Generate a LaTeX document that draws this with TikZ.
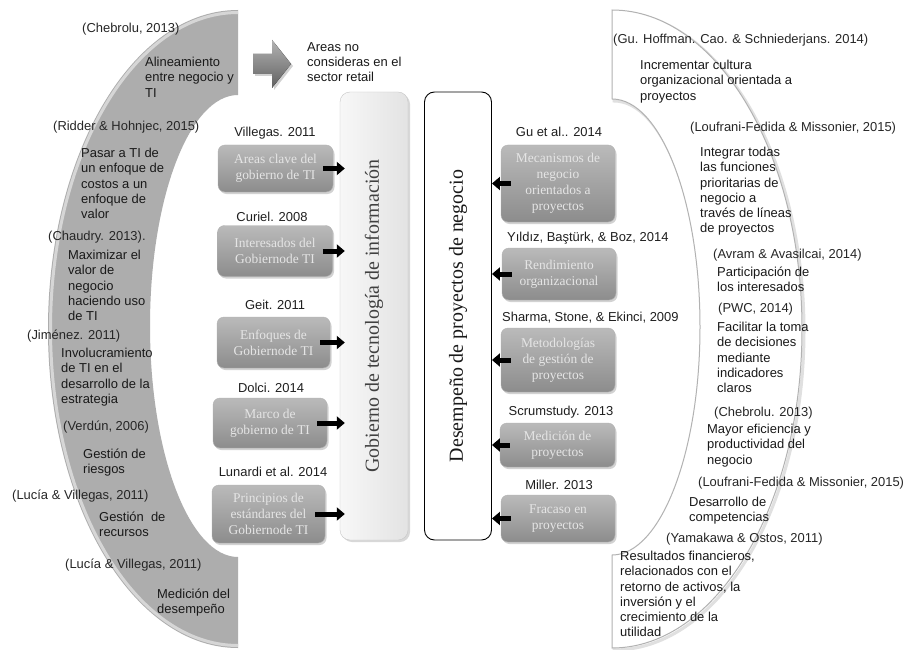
\documentclass[tikz,border=0pt]{standalone}
\usepackage{fontspec}
\setmainfont{Liberation Sans}
\newfontfamily\serifx{Liberation Serif}
\usetikzlibrary{arrows.meta,shadows}
\begin{document}
\begin{tikzpicture}[x=1bp,y=-1bp,
  cite/.style={font=\fontsize{13}{15.3}\selectfont, text=black!85, inner sep=0pt, anchor=west},
  body/.style={font=\fontsize{13}{15.3}\selectfont, text=black!90, align=left, inner sep=0pt, anchor=north west},
  lbl/.style={font=\fontsize{13}{15}\selectfont, text=black!88, inner sep=0pt},
  gbox/.style={rounded corners=7bp, draw=black!30, top color=black!27, bottom color=black!45,
    minimum width=114bp, align=center, text=white!90!black, inner sep=2bp,
    font=\serifx\fontsize{13.5}{16}\selectfont,
    drop shadow={opacity=0.35, shadow xshift=1.5bp, shadow yshift=-2bp}},
  tallg/.style={rounded corners=10bp, draw=black!22, left color=black!3, right color=black!11,
    minimum width=68bp, minimum height=448bp, inner sep=0pt,
    drop shadow={opacity=0.3, shadow xshift=2bp, shadow yshift=-2bp}},
  tallw/.style={rounded corners=10bp, draw=black, line width=0.9bp, fill=white,
    minimum width=67bp, minimum height=448bp, inner sep=0pt},
  vtext/.style={rotate=90, font=\serifx\fontsize{20}{24}\selectfont, inner sep=0pt},
  blk/.style={line width=5bp, -{Triangle[length=8bp,width=13bp]}, black},
]
\useasboundingbox[fill=white] (0,0) rectangle (911,650);

% left crescent
\fill[black!32] (238,10) arc[start angle=270, end angle=90, x radius=190, y radius=319]
  -- (238,557) arc[start angle=90, end angle=270, x radius=88, y radius=231] -- cycle;
\draw[black!16, line width=3bp] (238,12.5) arc[start angle=270, end angle=90, x radius=187.5, y radius=316.5];

% right crescent
\draw[black!12, line width=3bp, xshift=2bp, yshift=-2bp] (612,10) arc[start angle=270, end angle=450, x radius=190, y radius=319]
  -- (612,555) arc[start angle=90, end angle=-90, x radius=88, y radius=228] -- cycle;
\filldraw[fill=white, draw=black!30, line width=1bp] (612,10) arc[start angle=270, end angle=450, x radius=190, y radius=319]
  -- (612,555) arc[start angle=90, end angle=-90, x radius=88, y radius=228] -- cycle;

% top gray arrow
\fill[black!18] (255,56) -- (274,56) -- (274,42) -- (293,66) -- (274,90) -- (274,76) -- (255,76) -- cycle;
\fill[top color=black!30, bottom color=black!62] (253,54) -- (272,54) -- (272,40) -- (291,64) -- (272,88) -- (272,74) -- (253,74) -- cycle;
\node[body] (na) at (307,42) {Areas no\\consideras en el\\sector retail};

% tall boxes
\node[tallg] (G) at (374,316) {};
\node[vtext, text=black!75] (Gt) at (G.center) {Gobierno de tecnología de información};
\node[tallw] (D) at (458,316) {};
\node[vtext, text=black!90] (Dt) at (D.center) {Desempeño de proyectos de negocio};

% left boxes
\node[gbox, minimum width=115bp, minimum height=47bp] (a1) at (275.5,168.5) {Areas clave del\\gobierno de TI};
\node[gbox, minimum width=115bp, minimum height=51bp] (a2) at (275,251) {Interesados del\\Gobiernode TI};
\node[gbox, minimum width=113bp, minimum height=51bp] (a3) at (273.5,342.5) {Enfoques de\\Gobiernode TI};
\node[gbox, minimum width=114bp, minimum height=50bp] (a4) at (270,423) {Marco de\\gobierno de TI};
\node[gbox, minimum width=113bp, minimum height=58bp] (a5) at (268.5,514) {Principios de\\estándares del\\Gobiernode TI};

\node[lbl] (la1) at (275,133) {Villegas. 2011};
\node[lbl] (la2) at (272,217) {Curiel. 2008};
\node[lbl] (la3) at (275,305) {Geit. 2011};
\node[lbl] (la4) at (271,388) {Dolci. 2014};
\node[lbl] (la5) at (273,472) {Lunardi et al. 2014};

% right boxes
\node[gbox, minimum height=77bp] (b1) at (558,183.5) {Mecanismos de\\negocio\\orientados a\\proyectos};
\node[gbox, minimum height=52bp] (b2) at (559,274) {Rendimiento\\organizacional};
\node[gbox, minimum height=64bp] (b3) at (558,360) {Metodologías\\de gestión de\\proyectos};
\node[gbox, minimum height=44bp, minimum width=115bp] (b4) at (557.5,445) {Medición de\\proyectos};
\node[gbox, minimum height=47bp] (b5) at (558,518.5) {Fracaso en\\proyectos};

\node[lbl] (lb1) at (559,132) {Gu et al.. 2014};
\node[lbl, anchor=west] (lb2) at (507,238) {Yıldız, Baştürk, \& Boz, 2014};
\node[lbl, anchor=west] (lb3) at (502,318) {Sharma, Stone, \& Ekinci, 2009};
\node[lbl] (lb4) at (561,412) {Scrumstudy. 2013};
\node[lbl] (lb5) at (559,485) {Miller. 2013};

% arrows
\foreach \n in {a1,a2,a3,a4,a5}
  \draw[blk] ([xshift=-10bp]\n.east) -- ([xshift=5bp]\n.east -| G.west);
\foreach \n in {b1,b2,b3,b4,b5}
  \draw[blk] ([xshift=10bp]\n.west) -- (\n.west -| D.east);

% left texts
\node[cite] (c1) at (82,29) {(Chebrolu, 2013)};
\node[body] (t1) at (145,57) {Alineamiento\\entre negocio y\\TI};
\node[cite] (c2) at (53,127) {(Ridder \& Hohnjec, 2015)};
\node[body] (t2) at (81,148) {Pasar a TI de\\un enfoque de\\costos a un\\enfoque de\\valor};
\node[cite] (c3) at (48,237) {(Chaudry. 2013).};
\node[body] (t3) at (68,250) {Maximizar el\\valor de\\negocio\\haciendo uso\\de TI};
\node[cite] (c4) at (27,336) {(Jiménez. 2011)};
\node[body] (t4) at (61,348) {Involucramiento\\de TI en el\\desarrollo de la\\estrategia};
\node[cite] (c5) at (63,427) {(Verdún, 2006)};
\node[body] (t5) at (83,449) {Gestión de\\riesgos};
\node[cite] (c6) at (12,496) {(Lucía \& Villegas, 2011)};
\node[body] (t6) at (99,512) {Gestión\ \ de\\recursos};
\node[cite] (c7) at (65,565) {(Lucía \& Villegas, 2011)};
\node[body] (t7) at (157,589) {Medición del\\desempeño};

% right texts
\node[cite] (r1) at (613,40) {(Gu. Hoffman. Cao. \& Schniederjans. 2014)};
\node[body] (s1) at (640,60) {Incrementar cultura\\organizacional orientada a\\proyectos};
\node[cite] (r2) at (690,128) {(Loufrani-Fedida \& Missonier, 2015)};
\node[body] (s2) at (700,147) {Integrar todas\\las funciones\\prioritarias de\\negocio a\\través de líneas\\de proyectos};
\node[cite] (r3) at (713,255) {(Avram \& Avasilcai, 2014)};
\node[body] (s3) at (717,267) {Participación de\\los interesados};
\node[cite] (r4) at (718,309) {(PWC, 2014)};
\node[body] (s4) at (717,322) {Facilitar la toma\\de decisiones\\mediante\\indicadores\\claros};
\node[cite] (r5) at (714,413) {(Chebrolu. 2013)};
\node[body] (s5) at (707,424) {Mayor eficiencia y\\productividad del\\negocio};
\node[cite] (r6) at (698,483) {(Loufrani-Fedida \& Missonier, 2015)};
\node[body] (s6) at (689,497) {Desarrollo de\\competencias};
\node[cite] (r7) at (666,539) {(Yamakawa \& Ostos, 2011)};
\node[body] (s7) at (620,551) {Resultados financieros,\\relacionados con el\\retorno de activos, la\\inversión y el\\crecimiento de la\\utilidad};
\end{tikzpicture}
\end{document}
